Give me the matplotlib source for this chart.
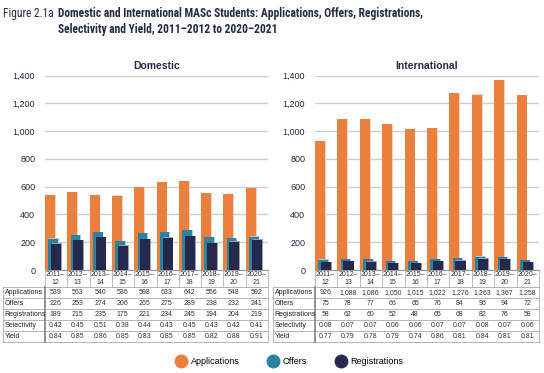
import numpy as np
import matplotlib
matplotlib.use("Agg")
from matplotlib import pyplot as plt
from matplotlib import transforms
from matplotlib.lines import Line2D

# Data
years = ["2011\u2013\n12", "2012\u2013\n13", "2013\u2013\n14", "2014\u2013\n15", "2015\u2013\n16",
         "2016\u2013\n17", "2017\u2013\n18", "2018\u2013\n19", "2019\u2013\n20", "2020\u2013\n21"]
row_labels = ["Applications", "Offers", "Registrations", "Selectivity", "Yield"]

dom_apps = [539, 563, 540, 536, 598, 633, 642, 556, 548, 592]
dom_offers = [226, 253, 274, 206, 265, 275, 289, 238, 232, 241]
dom_regs = [189, 215, 235, 175, 221, 234, 245, 194, 204, 219]
dom_sel = [0.42, 0.45, 0.51, 0.38, 0.44, 0.43, 0.45, 0.43, 0.42, 0.41]
dom_yield = [0.84, 0.85, 0.86, 0.85, 0.83, 0.85, 0.85, 0.82, 0.88, 0.91]

int_apps = [926, 1088, 1086, 1050, 1015, 1022, 1276, 1263, 1367, 1258]
int_offers = [75, 78, 77, 66, 65, 76, 84, 96, 94, 72]
int_regs = [58, 62, 60, 52, 48, 65, 68, 82, 76, 58]
int_sel = [0.08, 0.07, 0.07, 0.06, 0.06, 0.07, 0.07, 0.08, 0.07, 0.06]
int_yield = [0.77, 0.79, 0.78, 0.79, 0.74, 0.86, 0.81, 0.84, 0.81, 0.81]

# Colours
ORANGE = "#EB7F3D"
TEAL = "#2A83A3"
NAVY = "#252A4C"
SHADOWS = ["#F8D3C0", "#A9CEDC", "#9CA0B2"]
TXT = "#222B47"
GRID = "#CDCDCD"
COND = ["Roboto Condensed", "DejaVu Sans"]

W, H = 544, 373
plt.rcParams["font.family"] = ["Liberation Sans", "DejaVu Sans"]

fig = plt.figure(figsize=(W / 100, H / 100), dpi=100)


def fy(py):
    return 1 - py / H


def fx(px):
    return px / W


def draw_panel(left_px, right_px, title, apps, offers, regs, sel, yld, tab_left_px):
    top_px, bot_px = 75.7, 270
    ax = fig.add_axes([fx(left_px), fy(bot_px), fx(right_px - left_px), (bot_px - top_px) / H])
    x = np.arange(len(apps))
    series = [(apps, 0.0, 0.45, ORANGE), (offers, 0.15, 0.43, TEAL), (regs, 0.27, 0.45, NAVY)]
    for k, (vals, off, wid, col) in enumerate(series):
        ax.bar(x + off + 0.035, np.array(vals) + 2, width=wid, align="edge", color=SHADOWS[k], zorder=2 + 2 * k)
        ax.bar(x + off, vals, width=wid, align="edge", color=col, zorder=3 + 2 * k)
    ax.set_xlim(0, len(apps))
    ax.set_ylim(0, 1400)
    ax.set_yticks(range(0, 1401, 200))
    ax.set_yticklabels([f"{v:,}" for v in range(0, 1401, 200)], fontsize=6.5, color=TXT)
    ax.tick_params(axis="y", length=0, pad=7)
    ax.set_xticks([])
    ax.grid(axis="y", color=GRID, linewidth=1, zorder=0)
    ax.set_axisbelow(True)
    for s in ["top", "right", "left"]:
        ax.spines[s].set_visible(False)
    ax.spines["bottom"].set_color("#9A9A9A")
    ax.spines["bottom"].set_linewidth(0.8)
    ax.set_title(title, fontsize=7.5, fontweight="bold", color=TXT, pad=5)

    # table below the axis
    tr = transforms.blended_transform_factory(ax.transData, fig.transFigure)
    cx = x + 0.47
    for i, lab in enumerate(years):
        ax.text(cx[i], fy(278.5), lab, transform=tr, ha="center", va="center",
                fontsize=5, color="#333333", linespacing=1.15)
    # year row separators
    for i in range(len(apps) + 1):
        ax.add_line(Line2D([i, i], [fy(270), fy(287.3)], transform=tr, color="#B0B0B0",
                           linewidth=0.6, clip_on=False))
    rows_y = [292.8, 303.8, 314.6, 325.6, 336.4]
    cells = [[str(v) if v < 1000 else f"{v:,}" for v in apps],
             [str(v) for v in offers],
             [str(v) for v in regs],
             [f"{v:.2f}" for v in sel],
             [f"{v:.2f}" for v in yld]]
    for r, ypx in enumerate(rows_y):
        fig.text(fx(tab_left_px + 1.5), fy(ypx), row_labels[r], ha="left", va="center",
                 fontsize=5, color="#222222")
        for i, v in enumerate(cells[r]):
            ax.text(cx[i], fy(ypx), v, transform=tr, ha="center", va="center",
                    fontsize=5, color="#333333")
    # horizontal rules
    for ypx in [287.3, 298.3, 309.2, 320.1, 331.0, 341.8]:
        fig.add_artist(Line2D([fx(tab_left_px), fx(right_px)], [fy(ypx), fy(ypx)],
                              color="#A8A8A8", linewidth=0.6))
    # vertical rules
    fig.add_artist(Line2D([fx(tab_left_px), fx(tab_left_px)], [fy(287.3), fy(341.8)],
                          color="#A8A8A8", linewidth=0.6))
    fig.add_artist(Line2D([fx(left_px), fx(left_px)], [fy(287.3), fy(341.8)],
                          color="#8A8A8A", linewidth=1.3))
    fig.add_artist(Line2D([fx(right_px), fx(right_px)], [fy(287.3), fy(341.8)],
                          color="#A8A8A8", linewidth=0.6))
    return ax


draw_panel(45, 268, "Domestic", dom_apps, dom_offers, dom_regs, dom_sel, dom_yield, 3)
draw_panel(315, 539, "International", int_apps, int_offers, int_regs, int_sel, int_yield, 273)

# Figure heading
fig.text(fx(3), fy(14), "Figure 2.1a", fontsize=8.3, color=TXT, va="center", ha="left",
         family=COND, fontstretch="condensed")
fig.text(fx(58), fy(14), "Domestic and International MASc Students: Applications, Offers, Registrations,",
         fontsize=8.3, color=TXT, va="center", ha="left", fontweight="bold",
         family=COND, fontstretch="condensed")
fig.text(fx(58), fy(29), "Selectivity and Yield, 2011\u20132012 to 2020\u20132021",
         fontsize=8.3, color=TXT, va="center", ha="left", fontweight="bold",
         family=COND, fontstretch="condensed")

# Legend
handles = [Line2D([], [], marker="o", linestyle="none", markersize=9, color=c)
           for c in [ORANGE, TEAL, NAVY]]
fig.legend(handles, ["Applications", "Offers", "Registrations"], loc="center",
           bbox_to_anchor=(fx(290), fy(362)), ncol=3, frameon=False, fontsize=6.5,
           handletextpad=0.6, columnspacing=3.2, handlelength=1.0)

fig.savefig("out.png", dpi=100)
